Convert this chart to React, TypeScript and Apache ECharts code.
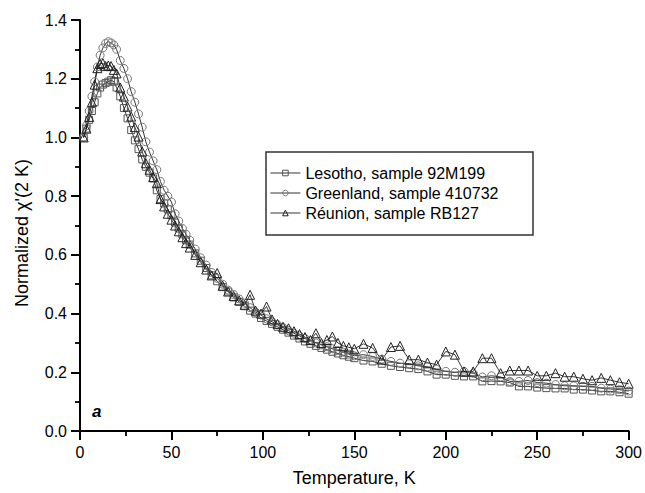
import React, { useEffect, useRef } from "react";
import * as echarts from "echarts";

const temps = [
  2, 3.5, 5, 6.5, 8, 9.5, 11, 12.5, 14, 15.5, 17, 18.5, 20,
  22, 24, 26, 28, 30, 32, 34, 36, 38, 40, 42, 44, 46, 48, 50, 52, 54, 56, 58, 60,
  63, 66, 69, 72, 75, 78, 81, 84, 87, 90, 93, 96, 99, 102, 105, 108, 111, 114, 117, 120,
  123, 126, 129, 132, 135, 138, 141, 144, 147, 150,
  155, 160, 165, 170, 175, 180, 185, 190, 195, 200, 205, 210, 215, 220, 225, 230,
  235, 240, 245, 250, 255, 260, 265, 270, 275, 280, 285, 290, 295, 300,
];

const lesotho = [
  1.0, 1.03, 1.06, 1.09, 1.12, 1.15, 1.17, 1.18, 1.185, 1.19, 1.195, 1.19, 1.17,
  1.14, 1.1, 1.065, 1.025, 0.99, 0.96, 0.925, 0.9, 0.88, 0.86, 0.82, 0.79, 0.775, 0.755, 0.735, 0.71, 0.69, 0.67, 0.65, 0.635,
  0.605, 0.58, 0.555, 0.53, 0.51, 0.49, 0.475, 0.455, 0.44, 0.425, 0.41, 0.4, 0.385, 0.375, 0.365, 0.355, 0.345, 0.335, 0.325, 0.315,
  0.305, 0.297, 0.29, 0.283, 0.277, 0.27, 0.264, 0.258, 0.253, 0.248,
  0.24, 0.237, 0.229, 0.222, 0.218, 0.214, 0.211, 0.203, 0.192, 0.192, 0.188, 0.186, 0.186, 0.169, 0.17, 0.169,
  0.165, 0.152, 0.152, 0.148, 0.146, 0.145, 0.145, 0.141, 0.141, 0.138, 0.135, 0.135, 0.132, 0.127,
];

const greenland = [
  1.0, 1.04, 1.09, 1.14, 1.19, 1.24, 1.28, 1.305, 1.32, 1.326, 1.322, 1.315, 1.3,
  1.262, 1.235, 1.2, 1.156, 1.12, 1.08, 1.035, 0.985, 0.95, 0.92, 0.89, 0.85, 0.82, 0.8, 0.78, 0.74, 0.715, 0.69, 0.67, 0.65,
  0.62, 0.59, 0.565, 0.54, 0.52, 0.5, 0.48, 0.465, 0.45, 0.435, 0.42, 0.405, 0.395, 0.382, 0.372, 0.362, 0.352, 0.342, 0.333, 0.324,
  0.315, 0.307, 0.3, 0.293, 0.287, 0.28, 0.274, 0.268, 0.262, 0.256,
  0.26, 0.254, 0.245, 0.237, 0.231, 0.229, 0.222, 0.218, 0.21, 0.203, 0.2, 0.203, 0.197, 0.184, 0.188, 0.184,
  0.169, 0.169, 0.172, 0.165, 0.163, 0.158, 0.154, 0.154, 0.152, 0.152, 0.146, 0.143, 0.141, 0.136,
];

const reunion = [
  1.0, 1.03, 1.07, 1.12, 1.18, 1.236, 1.25, 1.253, 1.243, 1.245, 1.243, 1.23, 1.218,
  1.17, 1.139, 1.105, 1.071, 1.035, 1.003, 0.952, 0.912, 0.89, 0.865, 0.844, 0.79, 0.765, 0.74, 0.72, 0.7, 0.68, 0.66, 0.64, 0.625,
  0.6, 0.575, 0.55, 0.53, 0.538, 0.495, 0.475, 0.46, 0.445, 0.43, 0.464, 0.41, 0.4, 0.424, 0.38, 0.365, 0.355, 0.35, 0.34, 0.33,
  0.32, 0.31, 0.333, 0.3, 0.31, 0.322, 0.3, 0.29, 0.285, 0.28,
  0.297, 0.283, 0.243, 0.286, 0.29, 0.243, 0.243, 0.233, 0.226, 0.271, 0.26, 0.203, 0.203, 0.248, 0.248, 0.197,
  0.206, 0.206, 0.206, 0.188, 0.188, 0.197, 0.185, 0.185, 0.178, 0.173, 0.181, 0.173, 0.166, 0.161,
];

const seriesNames = [
  "Lesotho, sample 92M199",
  "Greenland, sample 410732",
  "Réunion, sample RB127",
];

const FONT = 'Arial, "Liberation Sans", Helvetica, sans-serif';

export default function App() {
  const ref = useRef<HTMLDivElement>(null);

  useEffect(() => {
    if (!ref.current) return;
    const chart = echarts.init(ref.current, undefined, { renderer: "svg" });
    const pair = (vals: number[]) => temps.map((t, i) => [t, vals[i]]);
    const mk = (
      name: string,
      vals: number[],
      symbol: string,
      size: number,
      stroke: string
    ) => ({
      name,
      type: "line",
      data: pair(vals),
      symbol,
      symbolSize: size,
      showAllSymbol: true,
      color: stroke,
      lineStyle: { color: "#000", width: 0.8 },
      itemStyle: { color: "rgba(255,255,255,0)", borderColor: stroke, borderWidth: 1 },
      emphasis: { disabled: true },
    });

    const axisCommon = {
      axisLine: { show: true, onZero: false, lineStyle: { color: "#000", width: 2 } },
      axisTick: { show: true, inside: false, length: 9, lineStyle: { color: "#000", width: 2 } },
      minorTick: { show: true, splitNumber: 2, length: 5, lineStyle: { color: "#000", width: 1.8 } },
      splitLine: { show: false },
      minorSplitLine: { show: false },
    };

    chart.setOption({
      animation: false,
      backgroundColor: "#fff",
      textStyle: { fontFamily: FONT },
      grid: { left: 80, right: 13, top: 20, bottom: 62, containLabel: false },
      xAxis: {
        type: "value",
        min: 0,
        max: 300,
        interval: 50,
        name: "Temperature, K",
        nameLocation: "middle",
        nameGap: 38,
        nameTextStyle: { fontSize: 18, color: "#000", fontFamily: FONT },
        axisLabel: { fontSize: 16, color: "#000", margin: 13, fontFamily: FONT },
        ...axisCommon,
      },
      yAxis: {
        type: "value",
        min: 0,
        max: 1.4,
        interval: 0.2,
        axisLabel: {
          fontSize: 16,
          color: "#000",
          margin: 13,
          fontFamily: FONT,
          formatter: (v: number) => v.toFixed(1),
        },
        ...axisCommon,
      },
      legend: {
        orient: "vertical",
        left: 270,
        top: 165,
        itemWidth: 30,
        itemHeight: 7,
        itemGap: 4,
        padding: 0,
        itemStyle: { color: "rgba(255,255,255,0)", borderWidth: 1 },
        lineStyle: { color: "#000", width: 0.8 },
        textStyle: { fontSize: 16, color: "#000", fontFamily: FONT },
        data: seriesNames,
      },
      graphic: [
        {
          type: "rect",
          shape: { x: 266, y: 152, width: 267, height: 83 },
          style: { fill: "none", stroke: "#333", lineWidth: 1.5 },
          z: 1,
        },
        {
          type: "text",
          x: 92,
          y: 403,
          style: {
            text: "a",
            font: `italic bold 17px ${FONT}`,
            fill: "#000",
          },
        },
        {
          type: "text",
          x: 22,
          y: 233,
          rotation: Math.PI / 2,
          style: {
            text: "Normalized χ'(2 K)",
            font: `18px ${FONT}`,
            fill: "#000",
            align: "center",
            verticalAlign: "middle",
          },
        },
      ],
      series: [
        mk(seriesNames[0], lesotho, "rect", 7, "#555"),
        mk(seriesNames[1], greenland, "circle", 8, "#777"),
        mk(seriesNames[2], reunion, "triangle", 9, "#222"),
      ],
    });
    return () => chart.dispose();
  }, []);

  return (
    <div
      ref={ref}
      style={{ position: "fixed", left: 0, top: 0, width: 645, height: 493, background: "#fff" }}
    />
  );
}
